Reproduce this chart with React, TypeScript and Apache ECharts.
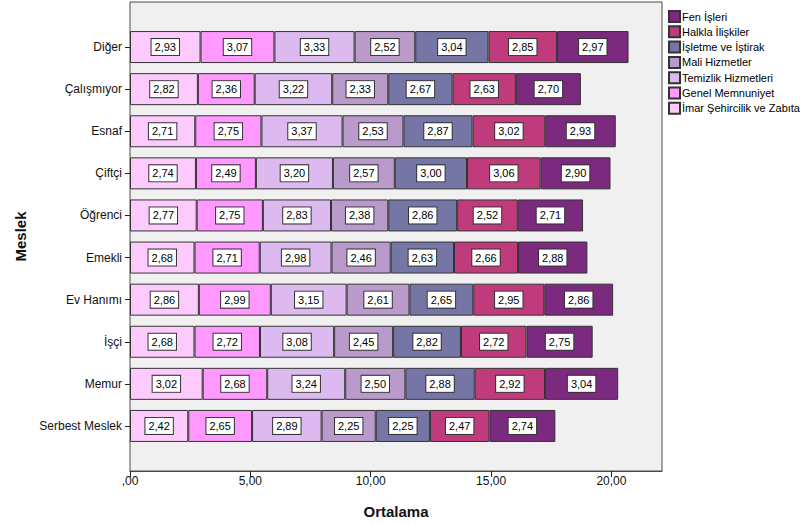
import React, { useEffect, useRef } from "react";
import * as echarts from "echarts";

const categories = [
  "Diğer",
  "Çalışmıyor",
  "Esnaf",
  "Çiftçi",
  "Öğrenci",
  "Emekli",
  "Ev Hanımı",
  "İşçi",
  "Memur",
  "Serbest Meslek",
];

const imar = [2.93, 2.82, 2.71, 2.74, 2.77, 2.68, 2.86, 2.68, 3.02, 2.42];
const genel = [3.07, 2.36, 2.75, 2.49, 2.75, 2.71, 2.99, 2.72, 2.68, 2.65];
const temizlik = [3.33, 3.22, 3.37, 3.2, 2.83, 2.98, 3.15, 3.08, 3.24, 2.89];
const mali = [2.52, 2.33, 2.53, 2.57, 2.38, 2.46, 2.61, 2.45, 2.5, 2.25];
const isletme = [3.04, 2.67, 2.87, 3.0, 2.86, 2.63, 2.65, 2.82, 2.88, 2.25];
const halkla = [2.85, 2.63, 3.02, 3.06, 2.52, 2.66, 2.95, 2.72, 2.92, 2.47];
const fen = [2.97, 2.7, 2.93, 2.9, 2.71, 2.88, 2.86, 2.75, 3.04, 2.74];

const seriesNames = [
  "İmar Şehircilik ve Zabıta",
  "Genel Memnuniyet",
  "Temizlik Hizmetleri",
  "Mali Hizmetler",
  "İşletme ve İştirak",
  "Halkla İlişkiler",
  "Fen İşleri",
];
const seriesData = [imar, genel, temizlik, mali, isletme, halkla, fen];
const colors = ["#fdcafd", "#ff98ff", "#dcb9ee", "#b99acb", "#7676a6", "#c03b7c", "#7b2a7f"];

const xTicks = [0, 5, 10, 15, 20];

const fmt = (v: number) => (v === 0 ? ",00" : v.toFixed(2).replace(".", ","));

export default function App() {
  const ref = useRef<HTMLDivElement>(null);
  useEffect(() => {
    if (!ref.current) return;
    const chart = echarts.init(ref.current, undefined, { renderer: "svg" });
    const font = "'Liberation Sans', Arial, sans-serif";
    chart.setOption({
      animation: false,
      backgroundColor: "#ffffff",
      textStyle: { fontFamily: font },
      grid: { left: 130, right: 142, top: 26, height: 421, containLabel: false },
      graphic: [
        {
          type: "rect",
          z: -10,
          shape: { x: 130, y: 2, width: 532, height: 469 },
          style: { fill: "#f0f0f0", stroke: "#4a4a4a", lineWidth: 1 },
        },
      ],
      legend: {
        orient: "vertical",
        left: 663,
        top: 5,
        itemWidth: 11,
        itemHeight: 11,
        itemGap: 2.3,
        icon: "rect",
        data: seriesNames.slice().reverse(),
        textStyle: {
          fontSize: 11,
          color: "#000",
          fontFamily: font,
          lineHeight: 11,
          padding: [0, 0, 0, -3],
        },
      },
      xAxis: {
        type: "value",
        min: 0,
        max: 22.1,
        offset: 24,
        axisLine: { show: true, lineStyle: { color: "#4a4a4a", width: 1 } },
        axisTick: { show: true, length: 6, customValues: xTicks, lineStyle: { color: "#222" } },
        axisLabel: {
          customValues: xTicks,
          formatter: (v: number) => fmt(v),
          fontSize: 12,
          color: "#111",
          margin: 4,
        },
        splitLine: { show: false },
        name: "Ortalama",
        nameLocation: "middle",
        nameGap: 33,
        nameTextStyle: { fontSize: 15, fontWeight: "bold", color: "#111", fontFamily: font },
      },
      yAxis: {
        type: "category",
        inverse: true,
        data: categories,
        axisLine: { show: false },
        axisTick: { show: true, alignWithLabel: true, length: 5, lineStyle: { color: "#222" } },
        axisLabel: { fontSize: 12, color: "#111", margin: 8 },
        name: "Meslek",
        nameLocation: "middle",
        nameGap: 100,
        nameTextStyle: { fontSize: 15, fontWeight: "bold", color: "#111", fontFamily: font },
      },
      series: seriesNames.map((name, i) => ({
        name,
        type: "bar",
        stack: "total",
        barWidth: 32,
        data: seriesData[i],
        itemStyle: { color: colors[i], borderColor: "#333", borderWidth: 1 },
        label: {
          show: true,
          position: "inside",
          formatter: (p: any) => fmt(p.value),
          backgroundColor: "#ffffff",
          borderColor: "#333",
          borderWidth: 1,
          padding: [2, 3, 2, 3],
          color: "#000",
          fontSize: 11,
          lineHeight: 12,
          fontFamily: font,
        },
      })),
    });
    return () => chart.dispose();
  }, []);
  return (
    <div
      ref={ref}
      style={{ position: "fixed", left: 0, top: 0, width: 804, height: 524 }}
    />
  );
}
